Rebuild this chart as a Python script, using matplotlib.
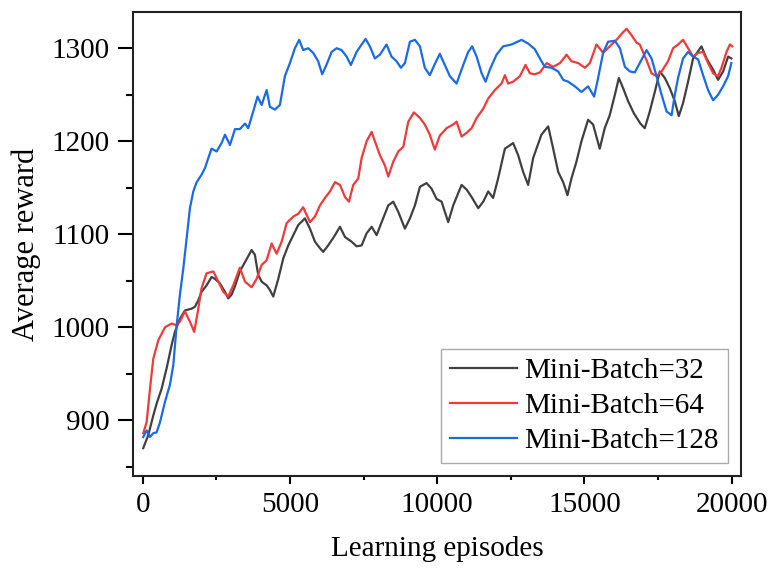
import numpy as np
import matplotlib.pyplot as plt

plt.rcParams['font.family'] = ['Liberation Serif', 'DejaVu Serif']

# data (episode, average reward)
ep_32 = [20, 190, 360, 475, 645, 815, 985, 1095, 1265, 1435, 1663, 1775, 1890, 2000,
         2170, 2340, 2455, 2625, 2795, 2905, 3020, 3135, 3300, 3475, 3700, 3810, 3925,
         4040, 4210, 4320, 4435, 4605, 4775, 4945, 5115, 5285, 5510, 5680, 5850, 6020,
         6130, 6300, 6470, 6530, 6700, 6870, 7095, 7265, 7435, 7605, 7775, 7945, 8115,
         8340, 8510, 8680, 8905, 9075, 9245, 9415, 9640, 9810, 9980, 10150, 10375, 10545,
         10830, 11000, 11170, 11395, 11565, 11735, 11900, 12070, 12300, 12580, 12750,
         12920, 13090, 13260, 13540, 13770, 13940, 14110, 14280, 14425, 14560, 14730,
         14900, 15125, 15295, 15520, 15690, 15860, 16035, 16170, 16315, 16485, 16680,
         16900, 17050, 17220, 17390, 17560, 17730, 17900, 18070, 18205, 18350, 18520,
         18690, 18975, 19145, 19370, 19540, 19710, 19880, 19990]
rw_32 = [870, 884, 905, 918, 934, 956, 981, 995, 1009, 1018, 1020, 1022, 1029, 1038,
         1045, 1054, 1052, 1047, 1038, 1031, 1035, 1044, 1060, 1070, 1083, 1078, 1056,
         1049, 1045, 1040, 1033, 1052, 1074, 1088, 1099, 1110, 1117, 1106, 1092, 1085,
         1081, 1088, 1096, 1099, 1108, 1097, 1092, 1087, 1088, 1101, 1108, 1099, 1113,
         1131, 1135, 1124, 1106, 1117, 1131, 1151, 1155, 1149, 1138, 1135, 1113, 1131,
         1153, 1148, 1140, 1128, 1135, 1146, 1139, 1160, 1192, 1198, 1185,
         1167, 1153, 1182, 1207, 1216, 1192, 1167, 1156, 1142, 1160, 1178,
         1200, 1223, 1218, 1192, 1214, 1228, 1250, 1268, 1257, 1243, 1230,
         1219, 1214, 1232, 1253, 1275, 1268, 1257, 1243, 1227, 1241, 1264,
         1289, 1302, 1289, 1277, 1266, 1275, 1291, 1289]

ep_64 = [20, 135, 250, 360, 530, 760, 985, 1155, 1265, 1435, 1605, 1750, 1890, 2000,
         2170, 2400, 2570, 2740, 2905, 3075, 3135, 3300, 3475, 3700, 3870, 4040, 4210,
         4380, 4550, 4720, 4890, 5115, 5285, 5450, 5680, 5850, 6020, 6190, 6360, 6530,
         6700, 6870, 7005, 7150, 7320, 7435, 7605, 7775, 7885, 8055, 8225, 8340, 8510,
         8680, 8850, 9020, 9210, 9415, 9580, 9750, 9920, 10090, 10320, 10545, 10660,
         10830, 11000, 11170, 11340, 11565, 11735, 11960, 12185, 12300, 12410, 12580,
         12810, 13000, 13150, 13315, 13490, 13720, 13940, 14170, 14395, 14560, 14790,
         15015, 15185, 15410, 15635, 15860, 16090, 16280, 16430, 16600, 16770, 16880,
         17110, 17280, 17450, 17620, 17840, 18010, 18180, 18350, 18520, 18690, 18860,
         19030, 19200, 19370, 19540, 19655, 19825, 19940, 20020]
rw_64 = [886, 898, 934, 966, 986, 1000, 1004, 1002, 1006, 1017, 1006, 995, 1020, 1042,
         1058, 1060, 1049, 1038, 1033, 1045, 1050, 1064, 1049, 1043, 1052, 1067, 1072,
         1090, 1079, 1092, 1112, 1119, 1122, 1129, 1113, 1119, 1131, 1139, 1146, 1156,
         1153, 1140, 1135, 1153, 1160, 1182, 1200, 1210, 1200, 1185, 1174, 1162, 1178,
         1189, 1194, 1221, 1231, 1225, 1218, 1207, 1191, 1206, 1214, 1218, 1221,
         1205, 1209, 1214, 1225, 1235, 1246, 1255, 1262, 1271, 1262, 1264,
         1270, 1282, 1273, 1272, 1274, 1284, 1280, 1284, 1293, 1286, 1284,
         1279, 1284, 1304, 1295, 1302, 1309, 1316, 1321, 1314, 1306, 1304,
         1287, 1273, 1270, 1275, 1286, 1300, 1304, 1309, 1300, 1291, 1295,
         1296, 1284, 1273, 1270, 1279, 1296, 1304, 1302]

ep_128 = [20, 135, 250, 360, 475, 590, 760, 925, 1040, 1155, 1265, 1380, 1495, 1605,
          1720, 1835, 2000, 2115, 2230, 2340, 2510, 2680, 2795, 2965, 3135, 3300, 3475,
          3585, 3755, 3900, 4040, 4210, 4320, 4490, 4660, 4830, 5000, 5170, 5315, 5450,
          5620, 5790, 5960, 6095, 6240, 6415, 6585, 6755, 6925, 7070, 7265, 7435, 7570,
          7715, 7885, 8055, 8280, 8450, 8620, 8770, 8905, 9075, 9245, 9415, 9580, 9750,
          9920, 10090, 10260, 10430, 10660, 10885, 11055, 11190, 11340, 11510, 11645,
          11790, 12015, 12240, 12525, 12865, 13090, 13315, 13490, 13655, 13885, 14110,
          14280, 14450, 14675, 14900, 15125, 15330, 15465, 15635, 15805, 16035, 16205,
          16375, 16545, 16710, 16880, 17110, 17280, 17450, 17620, 17790, 17960, 18070,
          18180, 18350, 18520, 18690, 18860, 19030, 19200, 19370, 19540, 19710, 19880,
          19990]
rw_128 = [882, 889, 882, 886, 887, 898, 920, 938, 959, 1002, 1035, 1063, 1096, 1128,
          1146, 1156, 1164, 1171, 1182, 1192, 1189, 1198, 1207, 1196, 1213, 1213, 1219,
          1214, 1232, 1248, 1239, 1255, 1237, 1234, 1239, 1270, 1284, 1300, 1309, 1298,
          1300, 1295, 1286, 1272, 1282, 1296, 1300, 1298, 1291, 1282, 1296, 1304, 1310,
          1302, 1289, 1293, 1304, 1291, 1286, 1279, 1284, 1307, 1309, 1302, 1279, 1271,
          1283, 1294, 1282, 1270, 1262, 1282, 1296, 1302, 1291, 1273, 1264,
          1277, 1293, 1302, 1304, 1309, 1305, 1299, 1289, 1280, 1279, 1275,
          1266, 1264, 1259, 1253, 1259, 1248, 1268, 1295, 1307, 1308, 1300,
          1280, 1275, 1274, 1284, 1298, 1289, 1270, 1250, 1232, 1228, 1250,
          1268, 1289, 1296, 1291, 1288, 1271, 1255, 1244, 1250, 1259, 1270,
          1284]

labels = ['Mini-Batch=32', 'Mini-Batch=64', 'Mini-Batch=128']
colors = ['#404040', '#F03A3A', '#1A6AE6']

fig = plt.figure(figsize=(7.71, 5.69), dpi=100)
ax = fig.add_axes([0.173, 0.1634, 0.788, 0.8156])

ax.plot(ep_32, rw_32, color=colors[0], lw=1.6, label=labels[0])
ax.plot(ep_64, rw_64, color=colors[1], lw=1.6, label=labels[1])
ax.plot(ep_128, rw_128, color=colors[2], lw=1.6, label=labels[2])

ax.set_xlim(-315, 20315)
ax.set_ylim(840, 1339)
ax.set_xticks([0, 5000, 10000, 15000, 20000])
ax.set_xticks(np.arange(2500, 20000, 5000), minor=True)
ax.set_yticks([900, 1000, 1100, 1200, 1300])
ax.set_yticks([850, 950, 1050, 1150, 1250], minor=True)

for s in ax.spines.values():
    s.set_linewidth(1.5)
    s.set_color('#222222')
ax.tick_params(axis='both', which='both', direction='out', labelsize=21, width=1.5,
               top=False, right=False)
ax.tick_params(axis='y', which='major', length=11, pad=6)
ax.tick_params(axis='y', which='minor', length=5)
ax.tick_params(axis='x', which='major', length=5.5, pad=6)
ax.tick_params(axis='x', which='minor', length=3)

ax.set_xlabel('Learning episodes', fontsize=21, labelpad=13)
ax.set_ylabel('Average reward', fontsize=22, labelpad=8)

leg = ax.legend(loc='lower right', fontsize=21, fancybox=False, framealpha=1,
                edgecolor='#aaaaaa', handlelength=2.3, handletextpad=0.25,
                borderpad=0.3, labelspacing=0.3, borderaxespad=0.45)
leg.get_frame().set_linewidth(1.0)

plt.savefig('out.png', dpi=100)
